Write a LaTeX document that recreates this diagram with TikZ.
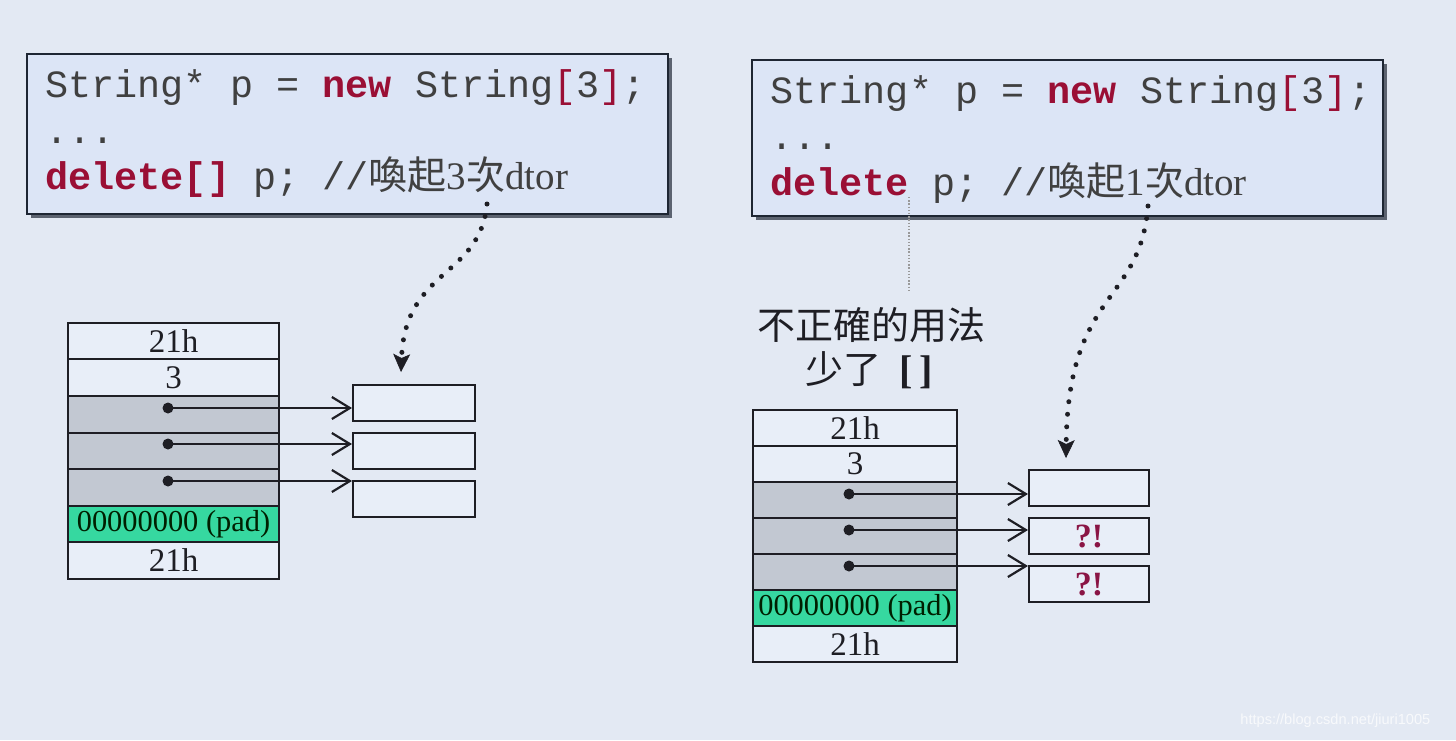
\documentclass[tikz,border=0pt]{standalone}
\usepackage{fontspec}
\setmainfont{Liberation Serif}
\newfontfamily\codef{Liberation Mono}
\newfontfamily\cjk{Noto Sans CJK TC}
\newfontfamily\wmf{Liberation Sans}
\usetikzlibrary{arrows.meta}
\definecolor{bg}{HTML}{E3E9F3}
\definecolor{boxfill}{HTML}{DCE5F6}
\definecolor{boxline}{HTML}{1E2633}
\definecolor{shadowc}{HTML}{5C6370}
\definecolor{kw}{HTML}{9A0F35}
\definecolor{codeg}{HTML}{404040}
\definecolor{cellw}{HTML}{E8EEF8}
\definecolor{cellg}{HTML}{C2C8D2}
\definecolor{cellp}{HTML}{36D8A0}
\definecolor{qm}{HTML}{8A1545}
\definecolor{ink}{HTML}{1E1E24}
\begin{document}
\begin{tikzpicture}[x=0.5pt,y=-0.5pt,
 codebox/.style={draw=boxline, line width=1.3pt, fill=boxfill, inner sep=0},
 cell/.style={draw=ink, line width=1pt, inner sep=0, text=ink, font=\fontsize{16.5}{18}\selectfont},
 lcell/.style={cell, minimum width=105.5pt, minimum height=18.25pt},
 rcell/.style={cell, minimum width=102pt, minimum height=18pt},
 blank/.style={fill=cellw},
 ptr/.style={fill=cellg},
 pad/.style={fill=cellp, text=black!80!green!60!black, font=\fontsize{15.2}{17}\selectfont},
 target/.style={draw=ink, line width=1pt, fill=cellw, inner sep=0, minimum height=18pt},
 dotc/.style={circle, fill=ink, inner sep=0, minimum size=5.5pt},
 parrow/.style={line width=1pt, draw=ink, -{Straight Barb[length=9pt,width=11pt,line width=1.1pt]}},
 dtorarrow/.style={line width=2.5pt, line cap=round, dash pattern=on 0pt off 6.3pt, draw=ink, -{Stealth[length=9pt,width=8.5pt,inset=2pt,line width=0.3pt]}},
 code/.style={anchor=base west, inner sep=0, text=codeg, font=\codef\fontsize{19.25}{22}\selectfont},
 qmark/.style={text=qm, font=\bfseries\fontsize{17}{19}\selectfont},
 note/.style={inner sep=0, text=ink, font=\cjk\fontsize{19}{22}\selectfont},
 notelink/.style={draw=black!40, line width=1pt, dash pattern=on 0.7pt off 0.9pt}
]
\useasboundingbox (0,0) rectangle (1456,740);
\fill[bg] (0,0) rectangle (1456,740);

% ---- code boxes ----
\fill[shadowc] (31,58) rectangle (672,218);
\node[codebox, minimum width=320.5pt, minimum height=80pt] (lcode) at (347.5,134) {};
\fill[shadowc] (756,64) rectangle (1387,220);
\node[codebox, minimum width=315.5pt, minimum height=78pt] (rcode) at (1067.5,138) {};

\node[code] (l1) at (45,97) {String* p = {\bfseries\color{kw}new} String{\color{kw}[}3{\color{kw}]};};
\node[code] (l2) at (45,143) {...};
\node[code] (l3) at (45,189) {{\bfseries\color{kw}delete[]} p; //{\cjk\fontsize{19.5}{22}\selectfont 喚起}{\rmfamily\fontsize{19.5}{22}\selectfont 3}{\cjk\fontsize{19.5}{22}\selectfont 次}{\rmfamily\fontsize{19.5}{22}\selectfont dtor}};

\node[code] (r1) at (770,103) {String* p = {\bfseries\color{kw}new} String{\color{kw}[}3{\color{kw}]};};
\node[code] (r2) at (770,149) {...};
\node[code] (r3) at (770,195) {{\bfseries\color{kw}delete} p; //{\cjk\fontsize{19.5}{22}\selectfont 喚起}{\rmfamily\fontsize{19.5}{22}\selectfont 1}{\cjk\fontsize{19.5}{22}\selectfont 次}{\rmfamily\fontsize{19.5}{22}\selectfont dtor}};

% ---- left memory block ----
\node[lcell, blank] (la1) at (173.5,341.25) {21h};
\node[lcell, blank] (la2) at (173.5,377.5) {3};
\node[lcell, ptr]   (la3) at (173.5,414.25) {};
\node[lcell, ptr]   (la4) at (173.5,450.75) {};
\node[lcell, ptr]   (la5) at (173.5,487.25) {};
\node[lcell, pad]   (la6) at (173.5,523.75) {00000000 (pad)};
\node[lcell, blank] (la7) at (173.5,560.25) {21h};

\node[target, minimum width=61pt] (lb1) at (414,403) {};
\node[target, minimum width=61pt] (lb2) at (414,451) {};
\node[target, minimum width=61pt] (lb3) at (414,499) {};

\node[dotc] (ld1) at (168,408) {};
\node[dotc] (ld2) at (168,444) {};
\node[dotc] (ld3) at (168,481) {};
\draw[parrow] (ld1.center) -- (lb1.west |- ld1.center);
\draw[parrow] (ld2.center) -- (lb2.west |- ld2.center);
\draw[parrow] (ld3.center) -- (lb3.west |- ld3.center);

% ---- right memory block ----
\node[rcell, blank] (ra1) at (855,428) {21h};
\node[rcell, blank] (ra2) at (855,464) {3};
\node[rcell, ptr]   (ra3) at (855,500) {};
\node[rcell, ptr]   (ra4) at (855,536) {};
\node[rcell, ptr]   (ra5) at (855,572) {};
\node[rcell, pad]   (ra6) at (855,608) {00000000 (pad)};
\node[rcell, blank] (ra7) at (855,644) {21h};

\node[target, minimum width=60pt] (rb1) at (1089,488) {};
\node[target, minimum width=60pt, qmark] (rb2) at (1089,536) {?!};
\node[target, minimum width=60pt, qmark] (rb3) at (1089,584) {?!};

\node[dotc] (rd1) at (849,494) {};
\node[dotc] (rd2) at (849,530) {};
\node[dotc] (rd3) at (849,566) {};
\draw[parrow] (rd1.center) -- (rb1.west |- rd1.center);
\draw[parrow] (rd2.center) -- (rb2.west |- rd2.center);
\draw[parrow] (rd3.center) -- (rb3.west |- rd3.center);

% ---- note ----
\node[note] (wrong) at (871,325) {不正確的用法};
\node[note, anchor=west] (miss) at (805,370) {少了\hspace{9pt}{\rmfamily\bfseries\fontsize{20}{22}\selectfont [\,]}};
\coordinate (nt) at (909,197);
\draw[notelink] (nt) -- (909,292);

% ---- dtor arrows ----
\coordinate (lsrc) at (487,204);
\coordinate (ltgt) at (401,372);
\draw[dtorarrow] (lsrc) .. controls (480,278) and (405,268) .. (ltgt);
\coordinate (rsrc) at (1148,206);
\coordinate (rtgt) at (1066,458);
\draw[dtorarrow] (rsrc) .. controls (1140,305) and (1068,290) .. (rtgt);

% ---- watermark ----
\node[anchor=west, inner sep=0, text=white, opacity=0.75, font=\wmf\fontsize{7.3}{9}\selectfont] (wm) at (1240,721) {https://blog.csdn.net/jiuri1005};
\end{tikzpicture}
\end{document}
